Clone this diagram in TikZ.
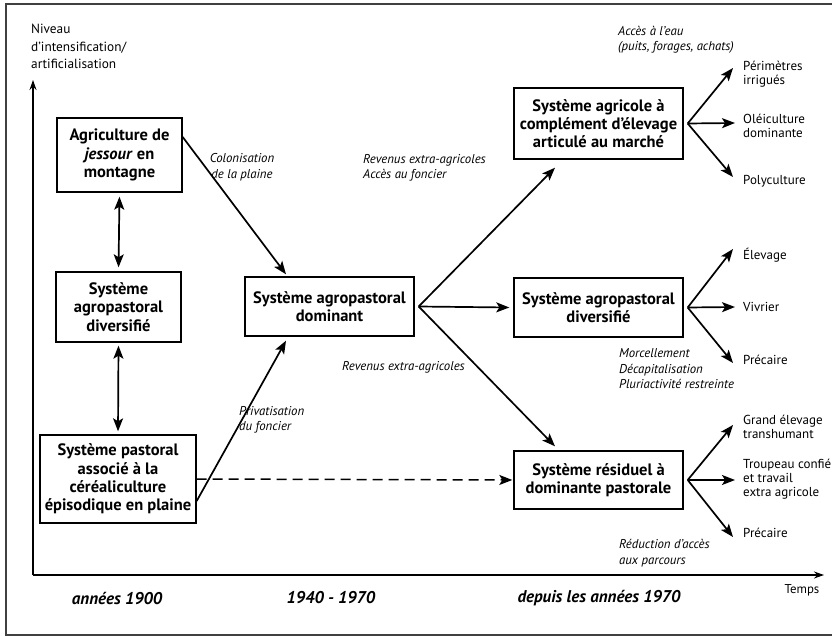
\documentclass[tikz,border=0pt]{standalone}
\usepackage{fontspec}
\setmainfont{PT Sans}
\usetikzlibrary{arrows.meta,calc}
\begin{document}
\begin{tikzpicture}[x=1pt,y=-1pt,
  box/.style={draw, line width=1.4pt, inner sep=0pt, align=center, font=\fontsize{16.5}{18.3}\selectfont\bfseries},
  arr/.style={line width=1.7pt, -{Stealth[length=13pt,width=10pt,inset=3pt]}},
  darr/.style={line width=1.7pt, {Stealth[length=13pt,width=10pt,inset=3pt]}-{Stealth[length=13pt,width=10pt,inset=3pt]}},
  lab/.style={font=\fontsize{12.8}{15.5}\selectfont\itshape, align=left, inner sep=0pt, anchor=west},
  outl/.style={font=\fontsize{13}{14.3}\selectfont, align=left, anchor=west, inner sep=0pt},
  per/.style={font=\fontsize{17}{18}\selectfont\bfseries\itshape, inner sep=0pt},
  ax/.style={line width=1.1pt, -{Stealth[length=10pt,width=7pt]}}
]
\useasboundingbox (0,0) rectangle (832,636);
\draw[line width=1.5pt, black!75] (845,4) -- (6,4) -- (6,635) -- (845,635);

% axes
\coordinate (O) at (33,575);
\coordinate (Ytop) at (33,80);
\coordinate (Xend) at (824,575);
\draw[ax] (O) -- (Ytop);
\draw[ax] (O) -- (Xend);
\node[anchor=north west, font=\fontsize{13.3}{17.5}\selectfont, align=left, inner sep=0pt] (ylab) at (31,24) {Niveau\\d’intensification/\\artificialisation};
\node[font=\fontsize{12.8}{15}\selectfont, inner sep=0pt] (temps) at (802,590) {Temps};

% boxes
\node[box, minimum width=125, minimum height=74] (b1) at (119.5,155) {Agriculture de\\\textit{jessour} en\\montagne};
\node[box, minimum width=125, minimum height=70] (b2) at (118.5,307) {Système\\agropastoral\\diversifié};
\node[box, minimum width=156, minimum height=88] (b3) at (118,479) {Système pastoral\\associé à la\\céréaliculture\\épisodique en plaine};
\node[box, minimum width=169, minimum height=59] (b4) at (329.5,306.5) {Système agropastoral\\dominant};
\node[box, minimum width=169, minimum height=71] (b5) at (598.5,123.5) {Système agricole à\\complément d’élevage\\articulé au marché};
\node[box, minimum width=169, minimum height=59] (b6) at (598.5,307.5) {Système agropastoral\\diversifié};
\node[box, minimum width=169, minimum height=58] (b7) at (598.5,480) {Système résiduel à\\dominante pastorale};

% labels
\node[lab, align=center, anchor=center] (colon) at (242,167) {Colonisation\\de la plaine};
\node[lab] (priv) at (239,420) {Privatisation\\du foncier};
\node[lab] (rev1) at (363,168) {Revenus extra-agricoles\\Accès au foncier};
\node[lab] (rev2) at (342,367) {Revenus extra-agricoles};
\node[lab] (eau) at (618,40) {Accès à l’eau\\(puits, forages, achats)};
\node[lab] (morc) at (619,369) {Morcellement\\Décapitalisation\\Pluriactivité restreinte};
\node[lab] (red) at (619,553) {Réduction d’accès\\aux parcours};

% outcomes
\node[outl] (o51) at (743,74) {Périmètres\\irrigués};
\node[outl] (o52) at (743,126) {Oléiculture\\dominante};
\node[outl] (o53) at (743,181) {Polyculture};
\node[outl] (o61) at (743,255) {Élevage};
\node[outl] (o62) at (743,307) {Vivrier};
\node[outl] (o63) at (743,360) {Précaire};
\node[outl] (o71) at (743,427) {Grand élevage\\transhumant};
\node[outl] (o72) at (743,479) {Troupeau confié\\et travail\\extra agricole};
\node[outl] (o73) at (743,533) {Précaire};

% periods
\node[per] (p1) at (117,598) {années 1900};
\node[per] (p2) at (331,598) {1940 - 1970};
\node[per] (p3) at (599,598) {depuis les années 1970};

% connectors left
\draw[darr, shorten <=4pt, shorten >=4pt] (b1.south) -- (b2.north);
\draw[darr, shorten <=3pt, shorten >=3pt] (b2.south) -- (b3.north);
\draw[arr] ([yshift=18]b1.east) -- ([shift={(-43.5,-2)}]b4.north);
\draw[arr] ([yshift=-22]b3.east) -- ([shift={(-43.5,4)}]b4.south);
\draw[line width=1.5pt, dash pattern=on 10pt off 6pt, -{Stealth[length=13pt,width=10pt,inset=3pt]}] (b3.east) -- ([xshift=-1]b7.west);

% connectors from b4
\coordinate (hub) at ([xshift=4]b4.east);
\draw[arr] (hub) -- ([shift={(-43.5,8)}]b5.south);
\draw[arr] (hub) -- ([xshift=-4]b6.west);
\draw[arr] (hub) -- ([shift={(-43.5,-4)}]b7.north);

% fans
\coordinate (h5) at ([xshift=4]b5.east);
\draw[arr] (h5) -- ([shift={(-10,-6)}]o51.west);
\draw[arr] (h5) -- ([shift={(-8,-3)}]o52.west);
\draw[arr] (h5) -- ([shift={(-10,-4)}]o53.west);
\coordinate (h6) at ([xshift=4]b6.east);
\draw[arr] (h6) -- ([shift={(-10,-6)}]o61.west);
\draw[arr] (h6) -- ([shift={(-8,0)}]o62.west);
\draw[arr] (h6) -- ([shift={(-10,3)}]o63.west);
\coordinate (h7) at ([xshift=4]b7.east);
\draw[arr] (h7) -- ([shift={(-10,-2)}]o71.west);
\draw[arr] (h7) -- ([shift={(-8,1)}]o72.west);
\draw[arr] (h7) -- ([shift={(-10,4)}]o73.west);
\end{tikzpicture}
\end{document}
